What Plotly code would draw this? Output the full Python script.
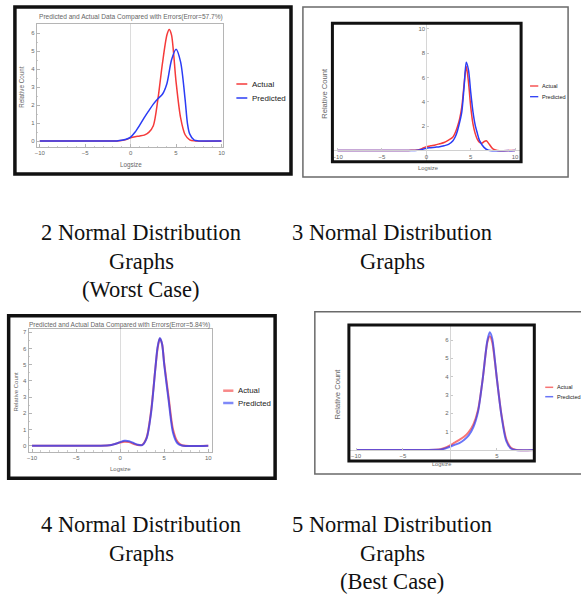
import plotly.graph_objects as go

# ---------------- data ----------------
p1_x_actual = [-10, -3, -1.5, -1, -0.5, 0, 0.5, 1, 1.5, 2, 2.5, 3, 3.5, 4, 4.25, 4.5, 5, 5.5, 6, 6.5, 7, 10]
p1_y_actual = [0, 0, 0.01, 0.03, 0.08, 0.18, 0.24, 0.28, 0.33, 0.48, 0.85, 2.3, 4.3, 5.9, 6.2, 5.9, 3.3, 1.3, 0.35, 0.07, 0.01, 0]
p1_x_pred = [-10, -3, -1.5, -1, -0.5, 0, 0.5, 1, 1.5, 2, 2.5, 3, 3.5, 4, 4.5, 5, 5.5, 6, 6.25, 6.5, 7, 7.5, 10]
p1_y_pred = [0, 0, 0.01, 0.04, 0.1, 0.22, 0.5, 0.88, 1.3, 1.68, 2.05, 2.35, 2.6, 3.2, 4.5, 5.1, 4.4, 2.3, 1.0, 0.4, 0.05, 0.01, 0]

p2_x_actual = [-10, -2, -1, -0.5, 0, 0.5, 1, 1.5, 2, 2.5, 3, 3.25, 3.5, 3.75, 4, 4.25, 4.5, 4.75, 5, 5.25, 5.5, 5.75, 6, 6.25, 6.5, 6.75, 7, 7.5, 8, 10]
p2_y_actual = [0, 0, 0.03, 0.15, 0.3, 0.38, 0.45, 0.55, 0.65, 0.85, 1.1, 1.45, 1.95, 2.6, 3.6, 5.4, 6.9, 5.6, 3.6, 2.2, 1.4, 0.9, 0.65, 0.58, 0.72, 0.8, 0.6, 0.12, 0, 0]
p2_x_pred = [-10, -2, -1, -0.5, 0, 0.5, 1, 1.5, 2, 2.5, 3, 3.25, 3.5, 3.75, 4, 4.25, 4.5, 4.75, 5, 5.25, 5.5, 5.75, 6, 6.5, 7, 10]
p2_y_pred = [0, 0, 0.02, 0.08, 0.18, 0.22, 0.26, 0.3, 0.38, 0.5, 0.8, 1.1, 1.6, 2.3, 3.2, 5.2, 7.25, 6.6, 4.8, 3.2, 2.1, 1.4, 0.8, 0.25, 0.02, 0]

p3_x = [-10, -3, -1.5, -1, -0.5, 0, 0.5, 1, 1.5, 2, 2.5, 3, 3.5, 4, 4.25, 4.5, 4.75, 5, 5.5, 6, 6.5, 7, 10]
p3_y_actual = [0, 0, 0.01, 0.04, 0.12, 0.2, 0.25, 0.22, 0.12, 0.04, 0.05, 0.5, 2.1, 4.8, 6.0, 6.6, 6.3, 5.1, 3.0, 1.0, 0.25, 0.03, 0]
p3_y_pred = [0, 0, 0.01, 0.04, 0.12, 0.22, 0.3, 0.28, 0.17, 0.06, 0.04, 0.45, 2.0, 4.8, 6.1, 6.65, 6.3, 5.0, 2.8, 0.8, 0.15, 0.01, 0]

p4_x = [-10, -3, -1.5, -1, -0.5, 0, 0.5, 1, 1.5, 2, 2.5, 3, 3.5, 4, 4.25, 4.5, 4.75, 5, 5.5, 6, 6.5, 7, 9]
p4_y_actual = [0, 0, 0.01, 0.04, 0.12, 0.25, 0.4, 0.55, 0.72, 0.98, 1.4, 2.2, 3.9, 5.9, 6.2, 5.9, 5.0, 3.9, 1.9, 0.6, 0.12, 0.01, 0]
p4_y_pred = [0, 0, 0.01, 0.03, 0.08, 0.18, 0.28, 0.38, 0.55, 0.8, 1.25, 2.1, 3.9, 6.0, 6.42, 6.1, 5.1, 3.9, 1.85, 0.5, 0.08, 0, 0]

p1_title = "Predicted and Actual Data Compared with Errors(Error=57.7%)"
p3_title = "Predicted and Actual Data Compared with Errors(Error=5.84%)"
series_names = ["Actual", "Predicted"]
captions = [
    ["2 Normal Distribution", "Graphs", "(Worst Case)"],
    ["3 Normal Distribution", "Graphs"],
    ["4 Normal Distribution", "Graphs"],
    ["5 Normal Distribution", "Graphs", "(Best Case)"],
]

# ---------------- layout helpers ----------------
W, H = 581, 594
def fx(p):
    return p / W
def fy(p):
    return 1 - p / H

RED = "#f53a3a"
BLUE = "#2b3cf5"
GRAY_TXT = "#666666"
SANS = "Liberation Sans, Arial, sans-serif"
SERIF = "Liberation Serif, Times New Roman, serif"

fig = go.Figure()

def add_pair(xa, ya, xp, yp, n, width, opacity):
    ax = "" if n == 1 else str(n)
    fig.add_trace(go.Scatter(x=xa, y=ya, mode="lines", name=series_names[0],
                             line=dict(color=RED, width=width, shape="spline", smoothing=0.8),
                             opacity=opacity, xaxis="x" + ax, yaxis="y" + ax, showlegend=False))
    fig.add_trace(go.Scatter(x=xp, y=yp, mode="lines", name=series_names[1],
                             line=dict(color=BLUE, width=width, shape="spline", smoothing=0.8),
                             opacity=opacity, xaxis="x" + ax, yaxis="y" + ax, showlegend=False))

add_pair(p1_x_actual, p1_y_actual, p1_x_pred, p1_y_pred, 1, 1.5, 1.0)
add_pair(p2_x_actual, p2_y_actual, p2_x_pred, p2_y_pred, 2, 1.5, 1.0)
add_pair(p3_x, p3_y_actual, p3_x, p3_y_pred, 3, 2.0, 0.75)
add_pair(p4_x, p4_y_actual, p4_x, p4_y_pred, 4, 2.0, 0.7)

tickfont = dict(family=SANS, size=6, color=GRAY_TXT)

def framed_axes(xdom, ydom, xr, yr, ytickvals):
    common = dict(showline=True, mirror=True, linecolor="#b5b5b5", linewidth=1,
                  ticks="inside", ticklen=3, tickcolor="#b5b5b5", showgrid=False,
                  tickfont=tickfont, minor=dict(ticks="inside", ticklen=1.5, tickcolor="#cccccc"))
    xa = dict(domain=xdom, range=xr, tickvals=[-10, -5, 0, 5, 10], zeroline=True,
              zerolinecolor="#dcdcdc", zerolinewidth=1, **common)
    ya = dict(domain=ydom, range=yr, tickvals=ytickvals, zeroline=False, **common)
    return xa, ya

def free_axes(xdom, ydom, xr, yr, xtickvals, ytickvals, xpos, ypos):
    xa = dict(domain=xdom, range=xr, anchor="free", position=ypos, tickvals=xtickvals,
              showline=True, linecolor="#d0d0d0", linewidth=1, ticks="inside", ticklen=2,
              tickcolor="#c8c8c8", showgrid=False, zeroline=False, tickfont=tickfont)
    ya = dict(domain=ydom, range=yr, anchor="free", position=xpos, tickvals=ytickvals,
              showline=True, linecolor="#d6d6d6", linewidth=1, ticks="inside", ticklen=2,
              tickcolor="#c8c8c8", showgrid=False, zeroline=False, tickfont=tickfont)
    return xa, ya

x1, y1 = framed_axes([fx(35), fx(223)], [fy(147), fy(24)], [-10.33, 10.22], [-0.33, 6.5],
                     [0, 1, 2, 3, 4, 5, 6])
x2, y2 = free_axes([fx(332.7), fx(522.7)], [fy(161.7), fy(23.3)], [-10.59, 10.68], [-0.93, 10.46],
                   [-10, -5, 0, 5, 10], [2, 4, 6, 8, 10], fx(427.3), fy(150.4))
x3, y3 = framed_axes([fx(26.7), fx(211.7)], [fy(451.7), fy(329.3)], [-10.4, 10.45], [-0.37, 7.19],
                     [0, 1, 2, 3, 4, 5, 6, 7])
x4, y4 = free_axes([fx(349.3), fx(536)], [fy(461), fy(325)], [-10.76, 8.99], [-0.6, 6.82],
                   [-10, -5, 5], [1, 2, 3, 4, 5, 6], fx(451), fy(450))
x1["anchor"] = "y"; y1["anchor"] = "x"
x3["anchor"] = "y3"; y3["anchor"] = "x3"

shapes = []
def rect(x0, y0, x1_, y1_, color, width):
    shapes.append(dict(type="rect", xref="paper", yref="paper", x0=fx(x0), x1=fx(x1_),
                       y0=fy(y1_), y1=fy(y0), line=dict(color=color, width=width),
                       fillcolor="rgba(0,0,0,0)", layer="above"))

rect(13, 7, 291, 174, "#111111", 3.5)          # panel 1 outer
rect(303, 7, 570, 177, "#6a6a6a", 1.5)          # panel 2 outer
rect(332.7, 23.3, 522.7, 161.7, "#111111", 3)   # panel 2 frame
rect(6.7, 315.7, 275, 478.3, "#111111", 3.5)    # panel 3 outer
rect(315, 311.7, 590, 474, "#6a6a6a", 1.5)      # panel 4 outer
rect(349.3, 325, 536, 461, "#111111", 3)        # panel 4 frame

annotations = []
def text(t, x, y, size, color=GRAY_TXT, family=SANS, angle=0, xanchor="center"):
    annotations.append(dict(text=t, x=fx(x), y=fy(y), xref="paper", yref="paper",
                            showarrow=False, xanchor=xanchor, yanchor="middle",
                            textangle=angle, font=dict(family=family, size=size, color=color)))

def legend(xl0, xl1, xt, ya, yp, size, width, opacity):
    for yy, col, name in [(ya, RED, series_names[0]), (yp, BLUE, series_names[1])]:
        shapes.append(dict(type="line", xref="paper", yref="paper", x0=fx(xl0), x1=fx(xl1),
                           y0=fy(yy), y1=fy(yy), line=dict(color=col, width=width), opacity=opacity))
        text(name, xt, yy, size, color="#222222", xanchor="left")

# panel 1
text(p1_title, 130, 17, 6.6)
text("Logsize", 130, 165, 6.3)
text("Relative Count", 20, 87, 6.3, angle=-90)
legend(236, 247, 250, 84, 98, 8, 1.5, 1.0)
# panel 2
text("Logsize", 429, 168, 5.8)
text("Relative Count", 324, 93, 7.6, angle=-90)
legend(531.7, 540, 541.5, 86, 96.7, 5.6, 1.3, 1.0)
# panel 3
text(p3_title, 118, 325, 6.5)
text("Logsize", 119, 469, 6.0)
text("Relative Count", 14, 391.7, 6.0, angle=-90)
legend(222.7, 233, 236, 390.7, 403, 7.8, 2.5, 0.6)
# panel 4
text("Logsize", 442.7, 464, 5.6)
text("Relative Count", 337.7, 394, 7.6, angle=-90)
legend(547, 555, 557.2, 387.3, 396.7, 5.6, 1.5, 0.7)

# captions
cap_pos = [(140, [232, 261.5, 289.5]), (393, [232, 261.5]),
           (140, [524, 553]), (393, [524, 553, 581.5])]
for lines, (cx, ys) in zip(captions, cap_pos):
    for line, yy in zip(lines, ys):
        text(line, cx, yy, 22.5, color="#111111", family=SERIF)

fig.update_layout(
    width=W, height=H, margin=dict(l=0, r=0, t=0, b=0),
    paper_bgcolor="white", plot_bgcolor="rgba(0,0,0,0)",
    showlegend=False, hovermode=False,
    xaxis=x1, yaxis=y1, xaxis2=x2, yaxis2=y2, xaxis3=x3, yaxis3=y3, xaxis4=x4, yaxis4=y4,
    shapes=shapes, annotations=annotations,
)

fig.write_html("out.html",
               config={"displayModeBar": False, "staticPlot": True},
               post_script="document.body.style.margin='0';document.body.style.overflow='hidden';")
